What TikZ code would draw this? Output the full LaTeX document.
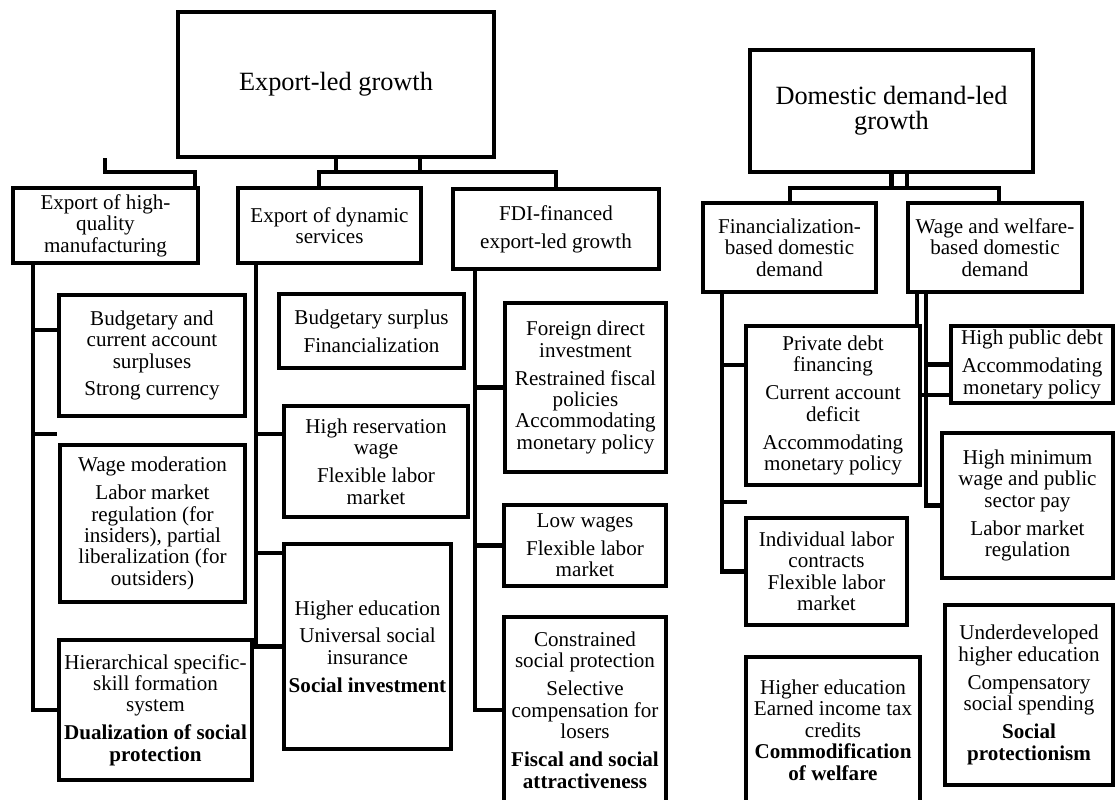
\documentclass[tikz,border=0pt]{standalone}
\usepackage{fontspec}
\setmainfont{Liberation Serif}

\newcommand\bodyfont{\fontsize{12}{12.2}\selectfont}
\newcommand\headfont{\fontsize{15}{14.4}\selectfont}
\newcommand\gap{\\[3.7pt]}

\begin{document}
\begin{tikzpicture}[x=0.02cm,y=-0.02cm,
  box/.style={draw,line width=2.4pt,inner sep=0pt,align=center,font=\bodyfont},
  wh/.style 2 args={minimum width=#1*0.02cm,minimum height=#2*0.02cm},
  link/.style={line width=2.4pt}]

  \useasboundingbox (0,0) rectangle (1116,800);

  % export-led side
  \node[box,wh={316}{145},font=\headfont] (elg) at (336,84.5) {Export-led growth};
  \node[box,wh={185}{75}] (hq) at (105.5,225.5) {Export of high-\\quality\\manufacturing};
  \node[box,wh={183}{75}] (ds) at (329.5,225.5) {Export of dynamic\\services};
  \node[box,wh={206}{80}] (fdi) at (556,229) {FDI-financed\gap export-led growth};

  \node[box,wh={186}{121}] (a1) at (152,355.5) {Budgetary and\\current account\\surpluses\gap Strong currency};
  \node[box,wh={185}{157}] (a2) at (152.5,523.5) {Wage moderation\gap Labor market\\regulation (for\\insiders), partial\\liberalization (for\\outsiders)};
  \node[box,wh={193}{140}] (a3) at (155.5,710) {Hierarchical specific-\\skill formation\\system\gap \textbf{Dualization of social}\\\textbf{protection}};

  \node[box,wh={185}{74}] (b1) at (371.5,331) {Budgetary surplus\gap Financialization};
  \node[box,wh={184}{111}] (b2) at (376,461.5) {High reservation\\wage\gap Flexible labor\\market};
  \node[box,wh={167}{205}] (b3) at (367.5,646.5) {Higher education\gap Universal social\\insurance\gap \textbf{Social investment}};

  \node[box,wh={161}{169}] (c1) at (585.5,387.5) {Foreign direct\\investment\gap Restrained fiscal\\policies\\Accommodating\\monetary policy};
  \node[box,wh={162}{81}] (c2) at (585,545.5) {Low wages\gap Flexible labor\\market};
  \node[box,wh={162}{186}] (c3) at (585,710) {Constrained\\social protection\gap Selective\\compensation for\\losers\gap \textbf{Fiscal and social}\\\textbf{attractiveness}};

  % domestic demand-led side
  \node[box,wh={283}{122},font=\headfont] (ddl) at (891.5,111) {Domestic demand-led\\growth};
  \node[box,wh={173}{89}] (fb) at (789.5,247.5) {Financialization-\\based domestic\\demand};
  \node[box,wh={174}{89}] (ww) at (995,247.5) {Wage and welfare-\\based domestic\\demand};

  \node[box,wh={174}{159}] (d1) at (833,405.5) {Private debt\\financing\gap Current account\\deficit\gap Accommodating\\monetary policy};
  \node[box,wh={161}{107}] (d2) at (826.5,571.5) {Individual labor\\contracts\\Flexible labor\\market};
  \node[box,wh={174}{146}] (d3) at (833,730) {Higher education\\Earned income tax\\credits\\\textbf{Commodification}\\\textbf{of welfare}};

  \node[box,wh={162}{77}] (e1) at (1032,364.5) {High public debt\gap Accommodating\\monetary policy};
  \node[box,wh={171}{145}] (e2) at (1027.5,505.5) {High minimum\\wage and public\\sector pay\gap Labor market\\regulation};
  \node[box,wh={168}{180}] (e3) at (1029,695) {Underdeveloped\\higher education\gap Compensatory\\social spending\gap \textbf{Social}\\\textbf{protectionism}};

  % export-led links
  \coordinate (jl) at (319,172);
  \coordinate (jr) at (556,172);
  \coordinate (jm) at (420,172);
  \coordinate (hqx) at (195,172);
  \coordinate (hqend) at (105,158);
  \draw[link] (elg.south) -- (elg.south |- jl);
  \draw[link] (elg.south -| jm) -- (jm);
  \draw[link] (ds.north -| jl) -- (jl) -- (jr) -- (fdi.north);
  \draw[link] (hq.north -| hqx) -- (hqx) -| (hqend);

  \coordinate (sa) at (33,0);
  \coordinate (sb) at (256,0);
  \coordinate (sc) at (475,0);
  \draw[link] (hq.south -| sa) |- (a3.west);
  \draw[link] (ds.south -| sb) |- (b3.west);
  \draw[link] (fdi.south -| sc) |- (c3.west);

  \coordinate (ka) at (33,330);
  \coordinate (kb) at (33,434);
  \coordinate (kbend) at (57,434);
  \coordinate (kc) at (256,434);
  \coordinate (kd) at (256,553);
  \draw[link] (ka) -- (ka -| a1.west);
  \draw[link] (kb) -- (kbend);
  \draw[link] (kc) -- (kc -| b2.west);
  \draw[link] (kd) -- (kd -| b3.west);
  \draw[link] (sc |- c1.west) -- (c1.west);
  \draw[link] (sc |- c2.west) -- (c2.west);

  % domestic demand-led links
  \coordinate (il) at (790,188);
  \coordinate (ir) at (999,188);
  \coordinate (im) at (907,188);
  \draw[link] (ddl.south) -- (ddl.south |- il);
  \draw[link] (ddl.south -| im) -- (im);
  \draw[link] (fb.north -| il) -- (il) -- (ir) -- (ww.north -| ir);

  \coordinate (ta) at (722,0);
  \coordinate (tb) at (926,0);
  \coordinate (tc) at (917,0);
  \draw[link] (fb.south -| ta) |- (d2.west);
  \draw[link] (ww.south -| tb) |- (e2.west);
  \draw[link] (ww.south -| tc) -- (d1.north -| tc);

  \coordinate (la) at (722,365);
  \coordinate (lb) at (722,502);
  \coordinate (lbend) at (747,502);
  \coordinate (lc) at (922,395);
  \draw[link] (la) -- (la -| d1.west);
  \draw[link] (lb) -- (lbend);
  \draw[link] (tb |- e1.west) -- (e1.west);
  \draw[link] (lc) -- (lc -| e1.west);
\end{tikzpicture}
\end{document}
